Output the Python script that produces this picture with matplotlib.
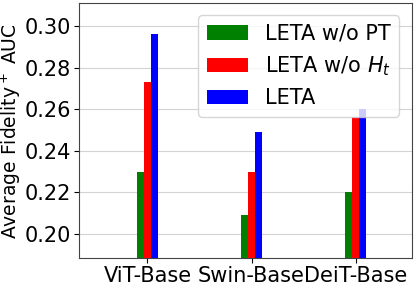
import matplotlib
matplotlib.use('Agg')
from matplotlib import pyplot as plt
import numpy as np

models = ['ViT-Base', 'Swin-Base', 'DeiT-Base']
leta_wo_pt = [0.23, 0.209, 0.22]
leta_wo_ht = [0.273, 0.23, 0.2565]
leta = [0.2965, 0.249, 0.26]

fig = plt.figure(figsize=(4.15, 2.91), dpi=100)
ax = fig.add_subplot(111)
fig.subplots_adjust(left=0.190, right=0.992, top=0.99, bottom=0.112)

x = np.arange(len(models))
w = 0.065
ax.bar(x - w, leta_wo_pt, w, color='green', label='LETA w/o PT', zorder=3)
ax.bar(x, leta_wo_ht, w, color='red', label='LETA w/o $H_t$', zorder=3)
ax.bar(x + w, leta, w, color='blue', label='LETA', zorder=3)

allv = leta_wo_pt + leta_wo_ht + leta
ax.set_ylim(min(allv) * 0.9, max(allv) * 1.05)
ax.set_xlim(-0.66, 2.54)
ax.set_xticks(x)
ax.set_xticklabels(models, fontsize=15)
ax.set_yticks([0.20, 0.22, 0.24, 0.26, 0.28, 0.30])
ax.tick_params(axis='y', labelsize=15, pad=2)
ax.tick_params(axis='x', pad=2)
ax.set_ylabel('Average Fidelity$^+$ AUC', fontsize=13.5)
ax.yaxis.set_label_coords(-0.168, 0.5)
ax.yaxis.grid(True, color='lightgray', zorder=0)
for s in ax.spines.values():
    s.set_color('#444444')
ax.legend(loc='upper right', fontsize=15, borderaxespad=0.6)

fig.savefig('out.png')
